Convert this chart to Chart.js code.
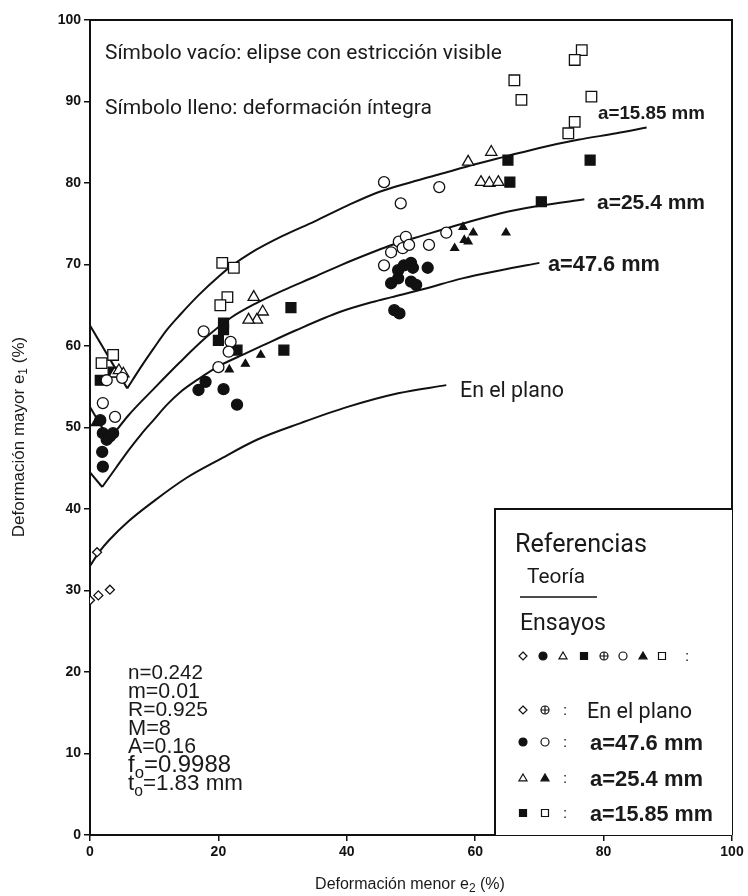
<!DOCTYPE html>
<html>
<head>
<meta charset="utf-8">
<script src="https://cdn.jsdelivr.net/npm/chart.js@4.4.1/dist/chart.umd.min.js"></script>
<style>
  body { margin: 0; background: #fff; }
</style>
</head>
<body>
<canvas id="chart" width="748" height="896"></canvas>
<script>
// Curvas teóricas (e2, e1)
const curva1585X = [0, 5.8, 8, 10, 12, 14, 17, 20, 22, 25, 30, 35, 40, 45, 50, 55, 60, 65, 70, 76, 82, 86.7];
const curva1585Y = [62.5, 54.8, 57.5, 59.8, 62, 63.8, 66.3, 68.5, 69.8, 71.4, 73.5, 75.3, 77.2, 78.9, 80.1, 81.2, 82.3, 83.3, 84.3, 85.3, 86.1, 86.8];
const curva254X = [0, 3, 6, 10, 14, 18, 22, 26, 30, 35, 39, 44, 47, 52, 58, 64, 70, 77];
const curva254Y = [52.5, 48.5, 51.5, 54.8, 58, 61, 63.5, 65.3, 66.8, 68.5, 69.9, 71.5, 72.4, 73.6, 75, 76.3, 77.2, 78];
const curva476X = [0, 1.9, 4, 6, 8, 10, 12, 14, 17, 20, 24, 27, 32, 39, 44, 47, 52, 58, 64, 70];
const curva476Y = [44.5, 42.7, 45, 47.2, 49.2, 51, 52.8, 54.3, 56, 57.5, 59, 60.1, 61.9, 64.2, 65.4, 66, 67, 68.3, 69.3, 70.2];
const curvaPlanoX = [0, 1.5, 3, 6, 10, 15, 20, 26, 33, 40, 48, 55.5];
const curvaPlanoY = [33, 34.8, 36.2, 38.5, 41, 43.8, 46, 48.5, 50.6, 52.5, 54.2, 55.2];

// Ensayos [e2, e1]
const planoRombo = [[0, 28.8], [1.3, 29.4], [3.1, 30.1], [1.1, 34.7]];
const circuloLleno = [[1.6, 50.9], [2, 49.3], [3.1, 48.9], [2.6, 48.5], [3.6, 49.3], [1.9, 47], [2, 45.2],
  [16.9, 54.6], [18, 55.6], [20.8, 54.7], [22.9, 52.8],
  [48, 69.3], [48.9, 69.9], [50, 70.2], [50.3, 69.6], [48, 68.3], [52.6, 69.6], [50, 67.9], [50.8, 67.5],
  [46.9, 67.7], [47.4, 64.4], [48.2, 64]];
const circuloVacio = [[2, 53], [3.9, 51.3], [2.6, 55.8], [5, 56.1],
  [17.7, 61.8], [21.9, 60.5], [21.6, 59.3], [20, 57.4],
  [45.8, 80.1], [54.4, 79.5], [48.4, 77.5], [46.9, 71.5], [48.1, 72.8], [49.2, 73.4], [48.7, 72],
  [49.7, 72.4], [52.8, 72.4], [55.5, 73.9], [45.8, 69.9]];
const trianguloVacio = [[3.8, 56.6], [4.5, 57], [5.2, 56.6],
  [25.5, 66], [26.9, 64.2], [26, 63.2], [24.7, 63.2],
  [58.9, 82.6], [62.5, 83.8], [60.9, 80.1], [62.2, 80], [63.6, 80.1]];
const trianguloLleno = [[0.8, 50.5], [21.7, 57.1], [24.2, 57.8], [26.6, 58.9],
  [56.8, 72], [58.3, 73], [59.7, 73.9], [58.9, 72.8], [64.8, 73.9], [58.1, 74.6]];
const cuadradoLleno = [[1.6, 55.8], [3.6, 56.8],
  [20.8, 62.8], [20.8, 62], [20, 60.7], [22.9, 59.5], [31.3, 64.7], [30.2, 59.5],
  [65.1, 82.8], [65.4, 80.1], [70.3, 77.7], [77.9, 82.8]];
const cuadradoVacio = [[1.8, 57.9], [3.6, 58.9],
  [20.6, 70.2], [22.4, 69.6], [21.4, 66], [20.3, 65],
  [76.6, 96.3], [75.5, 95.1], [66.1, 92.6], [67.2, 90.2], [78.1, 90.6], [75.5, 87.5], [74.5, 86.1]];

const ejeX = 'Deformación menor e';
const ejeY = 'Deformación mayor e';
// texto, subíndice, resto, ancho en px
const parametros = [['n=0.242', '', '', 75], ['m=0.01', '', '', 72], ['R=0.925', '', '', 80], ['M=8', '', '', 43],
  ['A=0.16', '', '', 68], ['f', 'o', '=0.9988', 103], ['t', 'o', '=1.83 mm', 115]];

const pts = arr => arr.map(([x, y]) => ({ x, y }));
const zip = (xs, ys) => xs.map((x, i) => ({ x, y: ys[i] }));

function marcas(data, style, radius, filled) {
  return {
    type: 'scatter',
    data: pts(data),
    pointStyle: style,
    pointRadius: radius,
    pointHoverRadius: radius,
    pointBorderWidth: 1.3,
    pointBorderColor: '#111',
    pointBackgroundColor: filled ? '#111' : '#fff'
  };
}

// la curva se parte en el mínimo: tramo recto a la izquierda y tramo suave a la derecha
function curva(xs, ys) {
  const all = zip(xs, ys);
  let k = 0;
  ys.forEach((v, i) => { if (i < ys.length / 2 && v < ys[k]) k = i; });
  const base = { type: 'line', borderColor: '#111', borderWidth: 2, pointRadius: 0, fill: false };
  const out = [Object.assign({}, base, { data: all.slice(k), cubicInterpolationMode: 'monotone' })];
  if (k > 0) out.push(Object.assign({}, base, { data: all.slice(0, k + 1), tension: 0 }));
  return out;
}

const FONT = '"Liberation Sans", Arial, sans-serif';

// dibuja texto ajustado a un ancho dado
function texto(ctx, s, x, y, width, size, font, weight) {
  const f = (weight ? weight + ' ' : '');
  ctx.font = f + size + 'px ' + (font || FONT);
  if (width) {
    const w = ctx.measureText(s).width;
    ctx.font = f + (size * width / w).toFixed(2) + 'px ' + (font || FONT);
  }
  ctx.fillText(s, x, y);
  return x + ctx.measureText(s).width;
}

function simbolo(ctx, tipo, x, y, r) {
  ctx.beginPath();
  ctx.lineWidth = 1.2;
  ctx.strokeStyle = '#111';
  ctx.fillStyle = '#111';
  const lleno = tipo.endsWith('L');
  const t = tipo.replace('L', '');
  if (t === 'rombo') {
    ctx.moveTo(x, y - r); ctx.lineTo(x + r, y); ctx.lineTo(x, y + r); ctx.lineTo(x - r, y); ctx.closePath();
  } else if (t === 'circ' || t === 'cruz') {
    ctx.arc(x, y, r, 0, Math.PI * 2);
  } else if (t === 'tri') {
    ctx.moveTo(x, y - r); ctx.lineTo(x + r, y + r * 0.7); ctx.lineTo(x - r, y + r * 0.7); ctx.closePath();
  } else if (t === 'cuad') {
    ctx.rect(x - r, y - r, 2 * r, 2 * r);
  }
  if (lleno) ctx.fill();
  ctx.stroke();
  if (t === 'cruz') {
    ctx.beginPath();
    ctx.moveTo(x - r, y); ctx.lineTo(x + r, y); ctx.moveTo(x, y - r); ctx.lineTo(x, y + r);
    ctx.stroke();
  }
}

const anotaciones = {
  id: 'anotaciones',
  afterDraw(chart) {
    const { ctx, chartArea: a } = chart;
    ctx.save();
    // marco
    ctx.strokeStyle = '#111';
    ctx.lineWidth = 2;
    ctx.beginPath();
    ctx.moveTo(a.left, a.top); ctx.lineTo(a.right, a.top); ctx.lineTo(a.right, a.bottom);
    ctx.stroke();

    ctx.fillStyle = '#1a1a1a';
    ctx.textBaseline = 'alphabetic';
    ctx.textAlign = 'left';
    texto(ctx, 'Símbolo vacío: elipse con estricción visible', 105, 59, 397, 18, 'Roboto');
    texto(ctx, 'Símbolo lleno: deformación íntegra', 105, 114, 327, 18, 'Roboto');
    texto(ctx, 'a=15.85 mm', 598, 119, 107, 15, FONT, 'bold');
    texto(ctx, 'a=25.4 mm', 597, 209, 108, 15, FONT, 'bold');
    texto(ctx, 'a=47.6 mm', 548, 271, 112, 15, FONT, 'bold');
    texto(ctx, 'En el plano', 460, 397, 104, 17, 'Roboto');

    // parámetros del modelo
    parametros.forEach(([p0, sub, resto, ancho], i) => {
      const y = 679 + i * 18.5;
      ctx.font = '17px ' + FONT;
      const wTot = ctx.measureText(p0 + resto).width + (sub ? ctx.measureText('o').width * 0.7 : 0);
      const size = 17 * ancho / wTot;
      let x = 128;
      ctx.font = size.toFixed(2) + 'px ' + FONT;
      ctx.fillText(p0, x, y);
      if (sub) {
        x += ctx.measureText(p0).width;
        ctx.font = (size * 0.7).toFixed(2) + 'px ' + FONT;
        ctx.fillText(sub, x, y + 6);
        x += ctx.measureText(sub).width;
        ctx.font = size.toFixed(2) + 'px ' + FONT;
        ctx.fillText(resto, x, y);
      }
    });

    // cuadro de referencias
    ctx.fillStyle = '#fff';
    ctx.fillRect(495, 509, a.right - 495, a.bottom - 509);
    ctx.strokeStyle = '#111';
    ctx.lineWidth = 2;
    ctx.beginPath();
    ctx.moveTo(495, a.bottom); ctx.lineTo(495, 509); ctx.lineTo(a.right, 509);
    ctx.stroke();
    ctx.fillStyle = '#1a1a1a';
    texto(ctx, 'Referencias', 515, 552, 132, 20, 'Roboto');
    texto(ctx, 'Teoría', 527, 583, 58, 17, 'Roboto');
    ctx.lineWidth = 1.5;
    ctx.beginPath();
    ctx.moveTo(520, 597); ctx.lineTo(597, 597);
    ctx.stroke();
    texto(ctx, 'Ensayos', 520, 630, 86, 17, 'Roboto');
    const fila = ['rombo', 'circL', 'tri', 'cuadL', 'cruz', 'circ', 'triL', 'cuad'];
    const fx = [523, 543, 563, 584, 604, 623, 643, 662];
    fila.forEach((s, i) => simbolo(ctx, s, fx[i], 656, s === 'cuad' || s === 'cuadL' ? 3.5 : 4));
    ctx.fillStyle = '#1a1a1a';
    ctx.font = '15px ' + FONT;
    ctx.fillText(':', 685, 661);
    const filas = [
      [['rombo', 'cruz'], 'En el plano', 710, 587, 105],
      [['circL', 'circ'], 'a=47.6 mm', 742, 590, 113],
      [['tri', 'triL'], 'a=25.4 mm', 778, 590, 113],
      [['cuadL', 'cuad'], 'a=15.85 mm', 813, 590, 123]
    ];
    filas.forEach(([sim, txt, y, tx, tw]) => {
      simbolo(ctx, sim[0], 523, y, sim[0] === 'cuadL' ? 3.5 : 4);
      simbolo(ctx, sim[1], 545, y, sim[1] === 'cuad' ? 3.5 : 4);
      ctx.fillStyle = '#1a1a1a';
      ctx.font = '15px ' + FONT;
      ctx.fillText(':', 563, y + 5);
      if (txt === 'En el plano') texto(ctx, txt, tx, y + 8, tw, 17, 'Roboto');
      else texto(ctx, txt, tx, y + 8, tw, 17, FONT, 'bold');
    });

    // títulos de ejes con subíndice
    ctx.fillStyle = '#1a1a1a';
    let big = '16px ' + FONT;
    const small = '12px ' + FONT;
    ctx.font = big;
    let w1 = ctx.measureText(ejeX).width;
    let w3 = ctx.measureText(' (%)').width;
    ctx.font = small;
    const w2 = ctx.measureText('2').width;
    let x0 = 410 - (w1 + w2 + w3) / 2;
    ctx.font = big;
    ctx.fillText(ejeX, x0, 889);
    ctx.font = small;
    ctx.fillText('2', x0 + w1, 892);
    ctx.font = big;
    ctx.fillText(' (%)', x0 + w1 + w2, 889);

    big = '17px ' + FONT;
    ctx.translate(24, 437);
    ctx.rotate(-Math.PI / 2);
    ctx.font = big;
    w1 = ctx.measureText(ejeY).width;
    w3 = ctx.measureText(' (%)').width;
    x0 = -(w1 + w2 + w3) / 2;
    ctx.fillText(ejeY, x0, 0);
    ctx.font = small;
    ctx.fillText('1', x0 + w1, 3);
    ctx.font = big;
    ctx.fillText(' (%)', x0 + w1 + w2, 0);
    ctx.restore();
  }
};

const ctx = document.getElementById('chart').getContext('2d');
new Chart(ctx, {
  type: 'scatter',
  data: {
    datasets: [
      marcas(planoRombo, 'rectRot', 4.5, false),
      marcas(circuloLleno, 'circle', 5.5, true),
      marcas(circuloVacio, 'circle', 5.5, false),
      marcas(trianguloVacio, 'triangle', 6.5, false),
      marcas(trianguloLleno, 'triangle', 4.5, true),
      marcas(cuadradoLleno, 'rect', 7, true),
      marcas(cuadradoVacio, 'rect', 7.5, false),
      ...curva(curva1585X, curva1585Y),
      ...curva(curva254X, curva254Y),
      ...curva(curva476X, curva476Y),
      ...curva(curvaPlanoX, curvaPlanoY)
    ]
  },
  options: {
    responsive: false,
    animation: false,
    layout: { padding: { top: 20, right: 16, left: 0, bottom: 0 } },
    plugins: {
      legend: { display: false },
      tooltip: { enabled: false }
    },
    scales: {
      x: {
        type: 'linear',
        min: 0,
        max: 100,
        ticks: { stepSize: 20, color: '#111', font: { family: FONT, size: 14, weight: 'bold' }, padding: 3 },
        grid: { drawOnChartArea: false, drawTicks: true, tickLength: 6, color: '#111', lineWidth: 1.5 },
        border: { color: '#111', width: 2 },
        afterFit: s => { s.height = 61; }
      },
      y: {
        min: 0,
        max: 100,
        ticks: { stepSize: 10, color: '#111', font: { family: FONT, size: 14, weight: 'bold' }, padding: 3 },
        grid: { drawOnChartArea: false, drawTicks: true, tickLength: 6, color: '#111', lineWidth: 1.5 },
        border: { color: '#111', width: 2 },
        afterFit: s => { s.width = 90; }
      }
    }
  },
  plugins: [anotaciones]
});
</script>
</body>
</html>
